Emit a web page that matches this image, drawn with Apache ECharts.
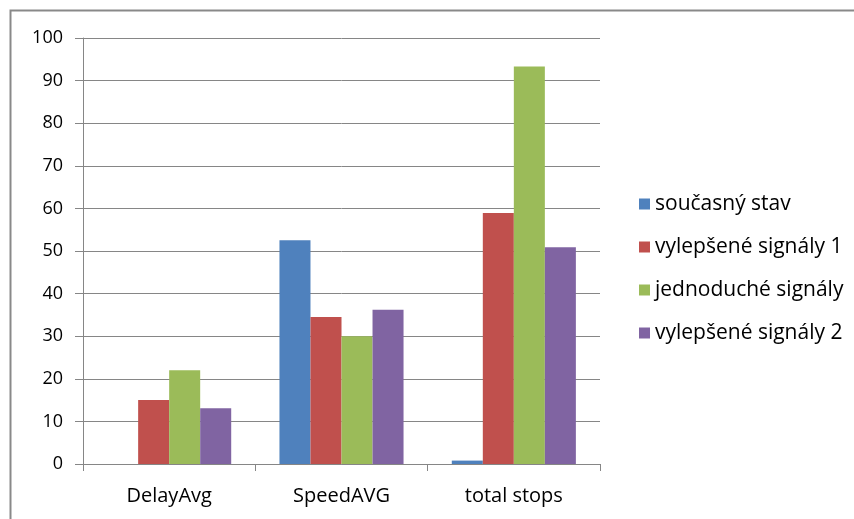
<!DOCTYPE html>
<html>
<head>
<meta charset="utf-8">
<script src="https://cdn.jsdelivr.net/npm/echarts@6/dist/echarts.min.js"></script>
<style>html,body{margin:0;padding:0;background:#fff}#c{width:854px;height:519px}</style>
</head>
<body>
<div id="c"></div>
<script>
const categories = ['DelayAvg', 'SpeedAVG', 'total stops'];
const seriesNames = ['současný stav', 'vylepšené signály 1', 'jednoduché signály', 'vylepšené signály 2'];
const soucasnyStav = [0, 52.5, 0.8];
const vylepseneSignaly1 = [15, 34.5, 58.9];
const jednoducheSignaly = [22, 30, 93.3];
const vylepseneSignaly2 = [13.1, 36.2, 50.9];
const yTicks = { min: 0, max: 100, interval: 10 };

const colors = ['#4F81BD', '#C0504D', '#9BBB59', '#8064A2'];
const seriesData = [soucasnyStav, vylepseneSignaly1, jednoducheSignaly, vylepseneSignaly2];
const font = 'Open Sans';

const chart = echarts.init(document.getElementById('c'));
chart.setOption({
  animation: false,
  color: colors,
  graphic: [{
    type: 'rect', shape: { x: 10.5, y: 10.5, width: 900, height: 600 },
    style: { fill: 'none', stroke: '#898989', lineWidth: 2 }, silent: true
  }],
  grid: { left: 83, right: 254, top: 38, bottom: 55, containLabel: false },
  legend: {
    orient: 'vertical', left: 639, top: 193, padding: 0,
    itemWidth: 11, itemHeight: 11, itemGap: 21,
    icon: 'rect',
    textStyle: { fontFamily: font, fontSize: 21, color: '#000', lineHeight: 22 },
    data: seriesNames
  },
  xAxis: {
    type: 'category', data: categories,
    axisLine: { lineStyle: { color: '#868686', width: 1 } },
    axisTick: { show: true, length: 7, lineStyle: { color: '#868686' } },
    axisLabel: { fontFamily: font, fontSize: 20, color: '#000', margin: 22 }
  },
  yAxis: {
    type: 'value', min: yTicks.min, max: yTicks.max, interval: yTicks.interval,
    axisLine: { show: true, lineStyle: { color: '#868686', width: 1 } },
    axisTick: { show: true, length: 8, lineStyle: { color: '#868686' } },
    splitLine: { lineStyle: { color: '#868686', width: 1 } },
    axisLabel: { fontFamily: font, fontSize: 18, color: '#000', margin: 20 }
  },
  series: seriesNames.map((n, i) => ({
    name: n, type: 'bar', data: seriesData[i],
    barGap: '0%', barCategoryGap: '28%'
  }))
});
</script>
</body>
</html>
